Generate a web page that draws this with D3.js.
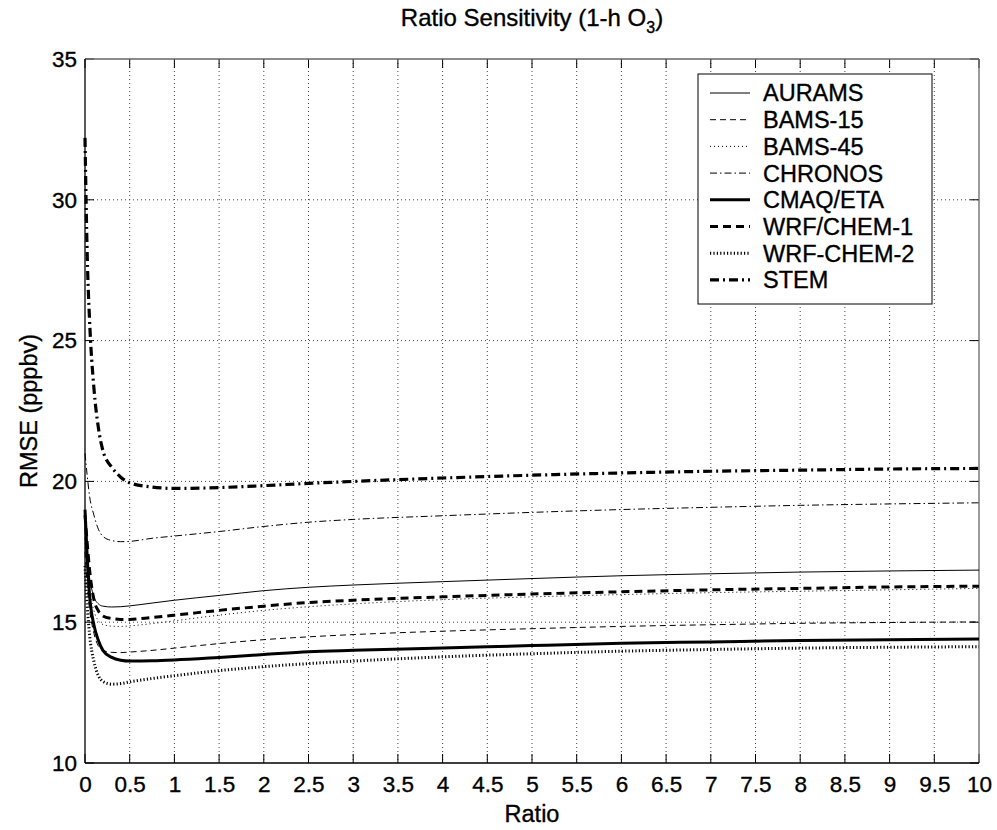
<!DOCTYPE html>
<html>
<head>
<meta charset="utf-8">
<script src="https://cdn.jsdelivr.net/npm/d3@7"></script>
<style>
  body { margin: 0; background: #fff; }
  text { font-family: "Liberation Sans", Arial, sans-serif; fill: #000; stroke: #000; stroke-width: 0.35px; }
</style>
</head>
<body>
<svg id="chart" width="997" height="830"></svg>
<script>
// ratio values sampled along x
var ratios = [0, 0.025, 0.05, 0.1, 0.15, 0.2, 0.3, 0.4, 0.5, 0.75, 1, 1.5, 2, 2.5, 3, 4, 5, 6, 7, 8, 9, 10];

var auramsVals  = [18.0, 17.2, 16.6, 15.9, 15.65, 15.57, 15.54, 15.55, 15.58, 15.68, 15.78, 15.95, 16.12, 16.24, 16.32, 16.44, 16.55, 16.65, 16.72, 16.78, 16.82, 16.85];
var bams15Vals  = [17.5, 16.3, 15.5, 14.6, 14.15, 14.0, 13.93, 13.92, 13.94, 14.0, 14.08, 14.24, 14.38, 14.48, 14.56, 14.68, 14.77, 14.85, 14.91, 14.96, 14.99, 15.01];
var bams45Vals  = [17.8, 16.9, 16.2, 15.4, 15.05, 14.92, 14.86, 14.85, 14.87, 14.95, 15.05, 15.25, 15.42, 15.55, 15.65, 15.8, 15.9, 15.98, 16.05, 16.1, 16.15, 16.2];
var chronosVals = [21.0, 20.2, 19.5, 18.8, 18.3, 18.05, 17.9, 17.86, 17.87, 17.98, 18.06, 18.22, 18.4, 18.55, 18.65, 18.78, 18.9, 19.0, 19.08, 19.15, 19.2, 19.24];
var cmaqVals    = [19.0, 17.3, 16.0, 14.9, 14.35, 14.0, 13.75, 13.65, 13.62, 13.63, 13.66, 13.75, 13.85, 13.95, 14.0, 14.08, 14.17, 14.25, 14.3, 14.35, 14.38, 14.4];
var wrf1Vals    = [18.8, 17.8, 16.9, 15.8, 15.4, 15.22, 15.13, 15.1, 15.1, 15.17, 15.25, 15.42, 15.57, 15.7, 15.78, 15.9, 16.0, 16.08, 16.15, 16.2, 16.25, 16.28];
var wrf2Vals    = [17.0, 15.6, 14.6, 13.6, 13.1, 12.9, 12.8, 12.82, 12.88, 13.0, 13.1, 13.28, 13.42, 13.53, 13.62, 13.77, 13.88, 13.97, 14.03, 14.08, 14.11, 14.13];
var stemVals    = [32.2, 28.0, 25.8, 23.3, 21.9, 21.1, 20.5, 20.15, 19.95, 19.8, 19.75, 19.78, 19.85, 19.93, 20.0, 20.12, 20.22, 20.3, 20.36, 20.4, 20.44, 20.46];

var seriesNames = ["AURAMS", "BAMS-15", "BAMS-45", "CHRONOS", "CMAQ/ETA", "WRF/CHEM-1", "WRF-CHEM-2", "STEM"];
var xTicks = d3.range(0, 10.01, 0.5);
var yTicks = [10, 15, 20, 25, 30, 35];

!(function(){
  "use strict";

  var styles = [
    {w: 1,   dash: null},
    {w: 1,   dash: "6,4"},
    {w: 1,   dash: "1,3"},
    {w: 1,   dash: "7,3,1.5,3"},
    {w: 3,   dash: null},
    {w: 3,   dash: "8,5"},
    {w: 3,   dash: "1.2,2.2"},
    {w: 3.2, dash: "9,4,2,4"}
  ];

  var allVals = [auramsVals, bams15Vals, bams45Vals, chronosVals, cmaqVals, wrf1Vals, wrf2Vals, stemVals];

  var svg = d3.select("#chart");
  var pl = 85, pr = 979, pt = 59, pb = 763;

  var x = d3.scaleLinear().domain([0, 10]).range([pl, pr]);
  var y = d3.scaleLinear().domain([10, 35]).range([pb, pt]);

  // grid
  var grid = svg.append("g");
  grid.selectAll(".vg").data(xTicks.slice(1, -1)).enter().append("line")
      .attr("x1", function(d) { return x(d); }).attr("x2", function(d) { return x(d); })
      .attr("y1", pt).attr("y2", pb)
      .attr("stroke", "#444").attr("stroke-width", 1).attr("stroke-dasharray", "1,3");
  grid.selectAll(".hg").data(yTicks.slice(1, -1)).enter().append("line")
      .attr("x1", pl).attr("x2", pr)
      .attr("y1", function(d) { return y(d); }).attr("y2", function(d) { return y(d); })
      .attr("stroke", "#444").attr("stroke-width", 1).attr("stroke-dasharray", "1,3");

  // axes
  var xAxis = d3.axisBottom(x).tickValues(xTicks).tickSize(0).tickPadding(13)
      .tickFormat(function(d) { return String(+d.toFixed(1)); });
  var gx = svg.append("g").attr("transform", "translate(0," + pb + ")").call(xAxis);
  gx.select(".domain").remove();
  gx.selectAll("text").attr("font-size", 22.5).attr("font-family", null);

  var yAxis = d3.axisLeft(y).tickValues(yTicks).tickSize(0).tickPadding(8);
  var gy = svg.append("g").attr("transform", "translate(" + pl + ",0)").call(yAxis);
  gy.select(".domain").remove();
  gy.selectAll("text").attr("font-size", 22.5).attr("font-family", null);

  // inward tick marks
  var tk = svg.append("g").attr("stroke", "#000").attr("stroke-width", 1);
  xTicks.forEach(function(d) {
    tk.append("line").attr("x1", x(d)).attr("x2", x(d)).attr("y1", pb).attr("y2", pb - 9);
    tk.append("line").attr("x1", x(d)).attr("x2", x(d)).attr("y1", pt).attr("y2", pt + 9);
  });
  yTicks.forEach(function(d) {
    tk.append("line").attr("x1", pl).attr("x2", pl + 9).attr("y1", y(d)).attr("y2", y(d));
    tk.append("line").attr("x1", pr).attr("x2", pr - 9).attr("y1", y(d)).attr("y2", y(d));
  });

  // box
  svg.append("line").attr("x1", pl).attr("x2", pr).attr("y1", pt).attr("y2", pt).attr("stroke", "#666").attr("stroke-width", 1.3);
  svg.append("line").attr("x1", pr).attr("x2", pr).attr("y1", pt).attr("y2", pb).attr("stroke", "#666").attr("stroke-width", 1.3);
  svg.append("line").attr("x1", pl).attr("x2", pr).attr("y1", pb).attr("y2", pb).attr("stroke", "#000").attr("stroke-width", 1.3);
  svg.append("line").attr("x1", pl).attr("x2", pl).attr("y1", pt).attr("y2", pb).attr("stroke", "#000").attr("stroke-width", 1.3);

  // series
  var line = d3.line()
      .x(function(d, i) { return x(ratios[i]); })
      .y(function(d) { return y(d); })
      .curve(d3.curveMonotoneX);

  var plot = svg.append("g");
  allVals.forEach(function(vals, i) {
    plot.append("path")
        .attr("d", line(vals))
        .attr("fill", "none")
        .attr("stroke", "#000")
        .attr("stroke-width", styles[i].w)
        .attr("stroke-dasharray", styles[i].dash);
  });

  // legend
  var lg = svg.append("g");
  lg.append("rect").attr("x", 698).attr("y", 74).attr("width", 234).attr("height", 230)
      .attr("fill", "#fff").attr("stroke", "#000").attr("stroke-width", 1);
  seriesNames.forEach(function(name, i) {
    var yy = 93 + i * 26.7;
    lg.append("line").attr("x1", 710).attr("x2", 750).attr("y1", yy).attr("y2", yy)
        .attr("stroke", "#000").attr("stroke-width", styles[i].w)
        .attr("stroke-dasharray", styles[i].dash);
    lg.append("text").attr("x", 763).attr("y", yy).attr("dy", "0.36em")
        .attr("font-size", 23.5).text(name);
  });

  // title
  var title = svg.append("text").attr("x", 532).attr("y", 26).attr("text-anchor", "middle").attr("font-size", 24);
  title.append("tspan").text("Ratio Sensitivity (1-h O");
  title.append("tspan").attr("dy", 7).attr("font-size", 16).text("3");
  title.append("tspan").attr("dy", -7).text(")");

  // axis labels
  svg.append("text").attr("x", x(5)).attr("y", 822).attr("text-anchor", "middle").attr("font-size", 23.5).text("Ratio");
  svg.append("text").attr("transform", "translate(37," + ((pt + pb) / 2) + ") rotate(-90)")
      .attr("text-anchor", "middle").attr("font-size", 23.5).text("RMSE (pppbv)");
}());
</script>
</body>
</html>
